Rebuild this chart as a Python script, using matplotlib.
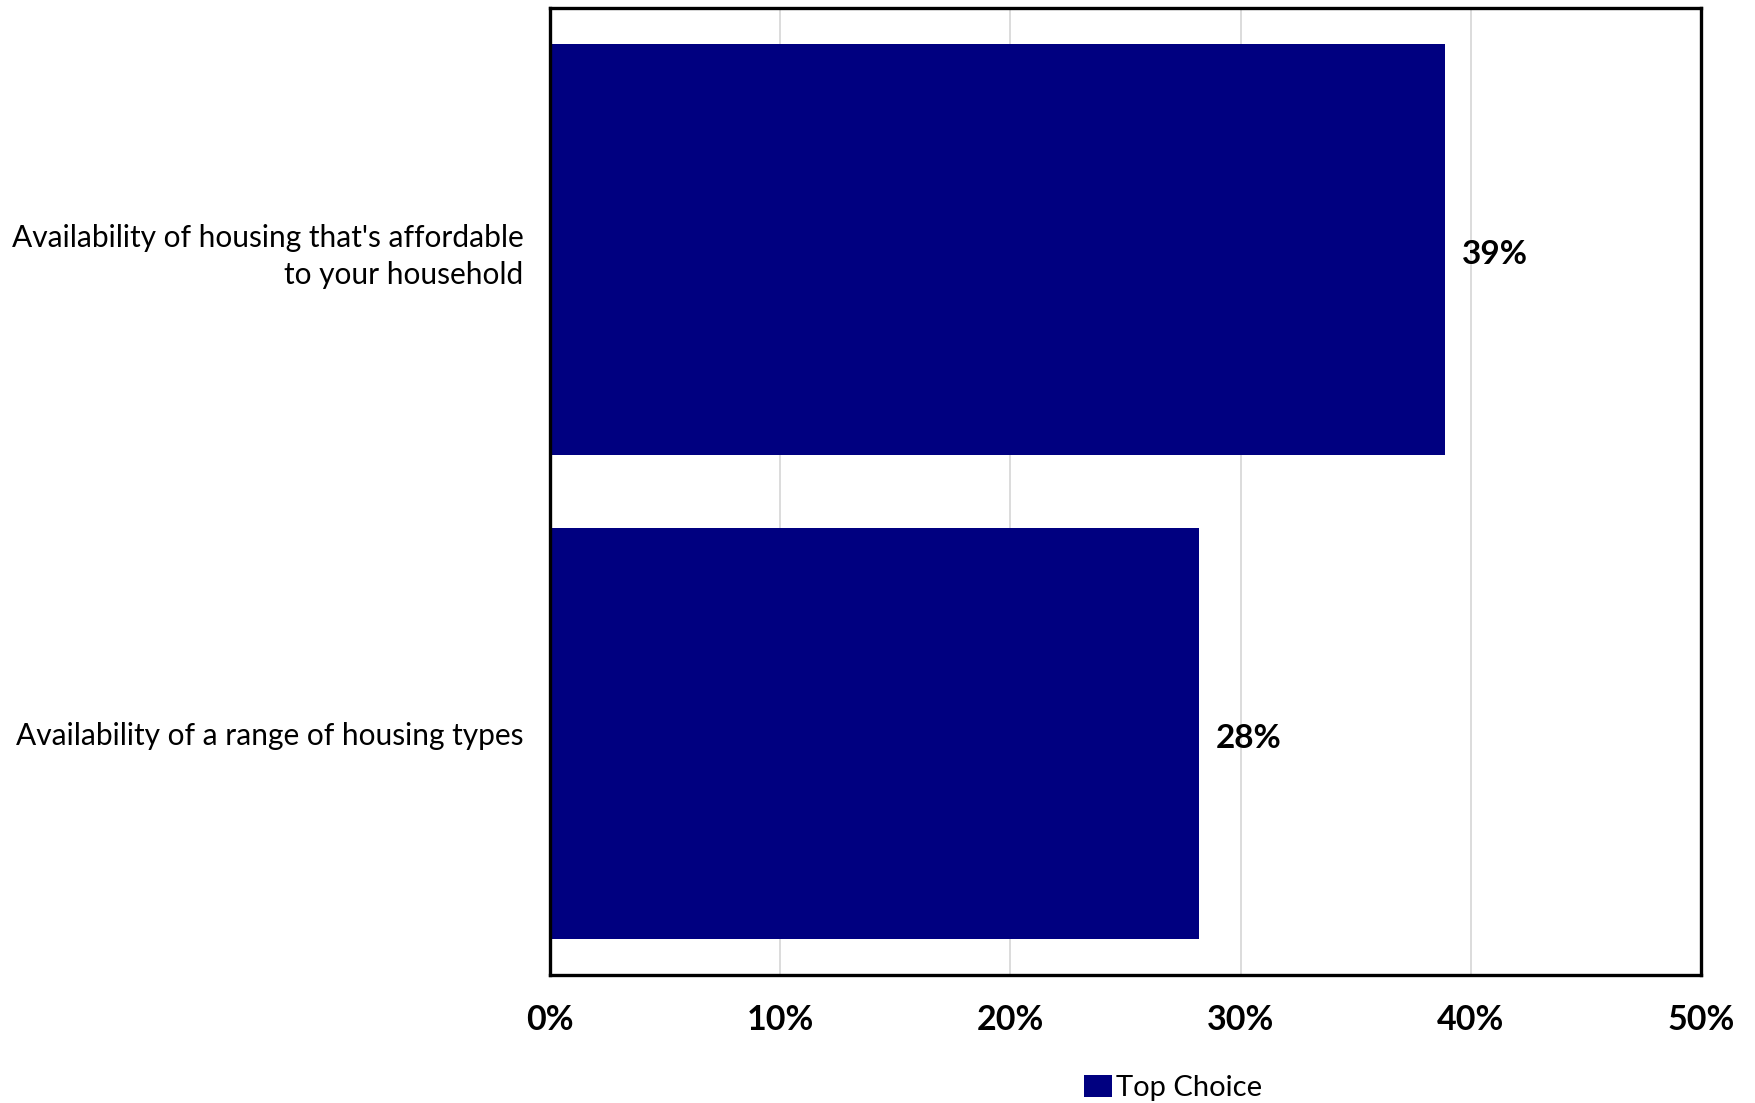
import matplotlib
matplotlib.use("Agg")
import matplotlib.pyplot as plt
from matplotlib.patches import Patch
from matplotlib.ticker import FuncFormatter

plt.rcParams['font.family'] = ['Lato', 'DejaVu Sans']

categories = [
    "Availability of housing that's affordable\nto your household",
    "Availability of a range of housing types",
]
top_choice = [0.389, 0.282]
series_name = "Top Choice"
x_ticks = [0.0, 0.1, 0.2, 0.3, 0.4, 0.5]

bar_color = "#000080"

W, H = 1756, 1103
fig = plt.figure(figsize=(W / 100, H / 100), dpi=100)
ax = fig.add_axes([550 / W, 1 - 975 / H, (1701 - 550) / W, (975 - 8) / H])

ypos = list(range(len(categories)))
ax.barh(ypos, top_choice, height=0.85, color=bar_color, zorder=3)
ax.set_ylim(len(categories) - 0.5, -0.5)
ax.set_xlim(0, 0.5)

ax.set_yticks(ypos)
ax.set_yticklabels(categories, fontsize=21.5, ha='right', ma='right',
                   linespacing=1.38)
ax.set_xticks(x_ticks)
ax.xaxis.set_major_formatter(FuncFormatter(lambda v, _: f"{v:.0%}"))
for lbl in ax.get_xticklabels():
    lbl.set_fontsize(24.5)
    lbl.set_fontweight('bold')
ax.tick_params(axis='both', length=0)
ax.tick_params(axis='y', pad=19)
ax.tick_params(axis='x', pad=21)

ax.grid(axis='x', color='#d9d9d9', linewidth=1.3, zorder=0)
ax.grid(axis='y', visible=False)
for s in ax.spines.values():
    s.set_linewidth(2.4)
    s.set_color('black')
    s.set_zorder(4)

for y, v in zip(ypos, top_choice):
    ax.text(v + 0.007, y + 0.01, f"{v:.0%}", va='center', ha='left',
            fontsize=24, fontweight='bold', color='black', zorder=5)

fig.legend(handles=[Patch(facecolor=bar_color, edgecolor='none')],
           labels=[series_name], loc='center', bbox_to_anchor=(1173 / W, 1 - 1088 / H),
           frameon=False, fontsize=21, handlelength=0.95, handleheight=0.8,
           handletextpad=0.15)

fig.savefig("out.png", dpi=100, facecolor='white')
